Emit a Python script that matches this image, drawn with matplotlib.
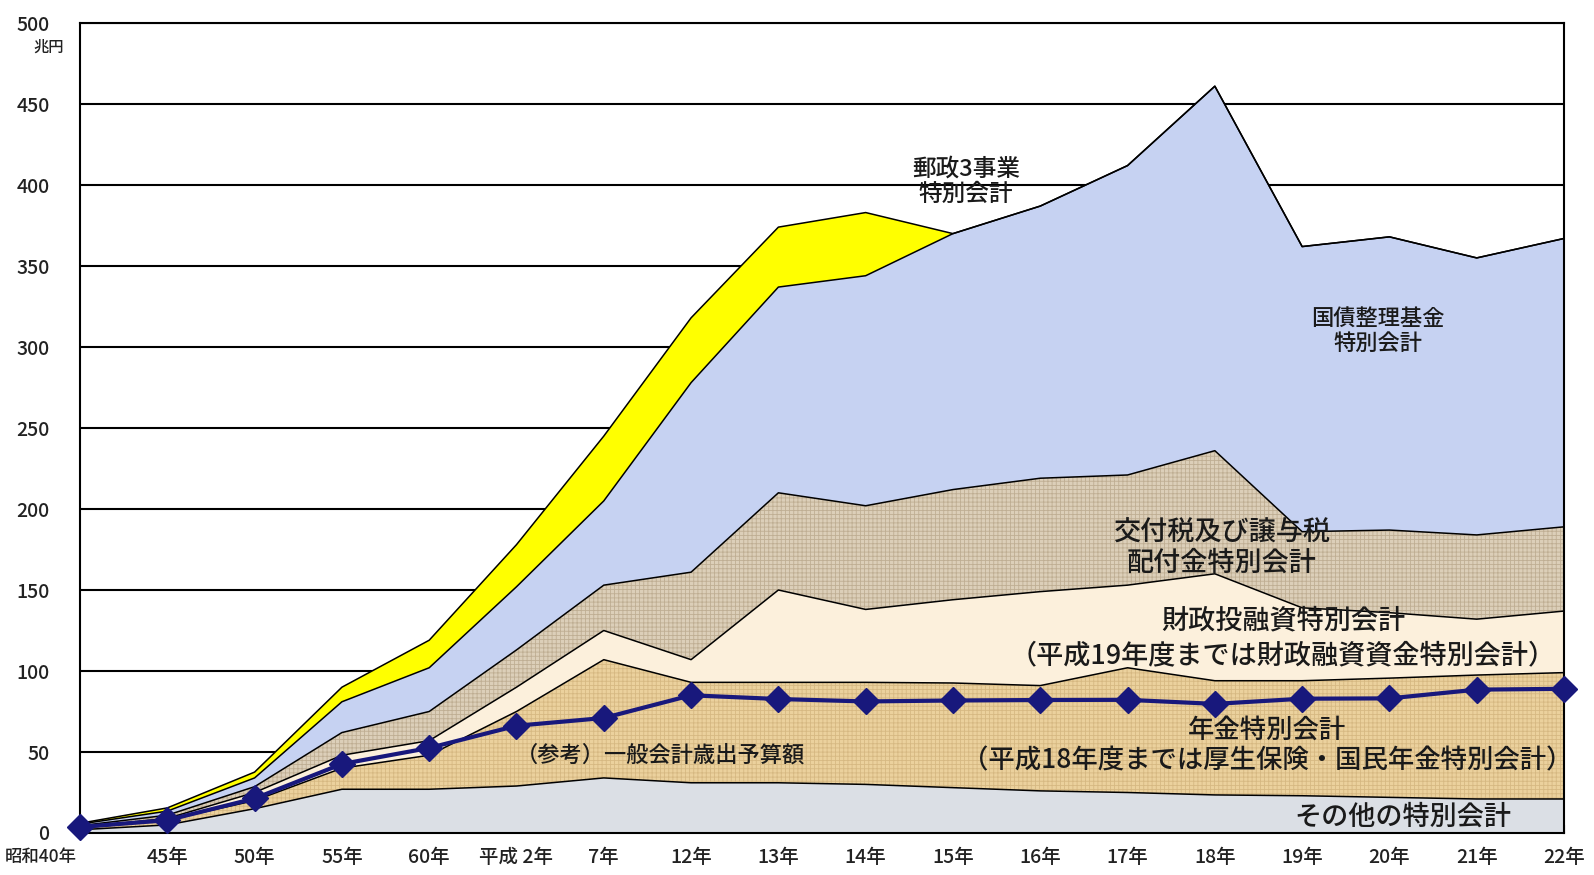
import numpy as np
import matplotlib.pyplot as plt
import matplotlib.transforms as mtransforms

plt.rcParams['font.family'] = ['Noto Sans CJK JP', 'DejaVu Sans']
plt.rcParams['hatch.linewidth'] = 0.6

# 年度 (category axis)
years = ['昭和40年', '45年', '50年', '55年', '60年', '平成 2年', '7年', '12年', '13年',
         '14年', '15年', '16年', '17年', '18年', '19年', '20年', '21年', '22年']

# 歳出額 (兆円), stacked from the bottom up
other_accounts = [2, 5, 15, 27, 27, 29, 34, 31, 31, 30, 28, 26, 25, 23.5, 23, 22, 21, 21]
pension = [1, 3, 5, 13, 21, 46, 73, 62, 62, 63, 64.6, 65, 77, 70.5, 71, 73.6, 76.5, 78]
filp = [0.5, 1, 5, 8, 9, 15, 18, 14, 57, 45, 51.4, 58, 51, 66, 45, 40.4, 34.5, 38]
local_alloc = [1, 2, 3.6, 14, 18, 23, 28, 54, 60, 64, 68, 70, 68, 76, 47, 51, 52, 52]
debt_fund = [1, 2.5, 5.4, 19, 27, 39, 52, 117, 127, 142, 158, 168, 191, 225, 176, 181, 171, 178]
postal = [0.5, 2, 3.6, 9, 17, 26, 40, 40, 37, 39, 0, 0, 0, 0, 0, 0, 0, 0]

# (参考) 一般会計歳出予算額
general_budget = [3.7, 7.9, 21.3, 42.6, 52.5, 66.2, 71.0, 85.0, 82.7, 81.2, 81.8, 82.1,
                  82.2, 79.7, 82.9, 83.1, 88.5, 89.0]

x = np.arange(len(years))
layers = np.array([other_accounts, pension, filp, local_alloc, debt_fund, postal])
tops = np.cumsum(layers, axis=0)
bottoms = tops - layers

face_colors = ['#dbdfe5', '#ebd19d', '#fcf0dc', '#dccfb9', '#c6d2f2', '#ffff00']
hatch_styles = [None, '++++', None, '++++', None, None]
hatch_colors = [None, '#d6b882', None, '#bfae93', None, None]

fig = plt.figure(figsize=(15.94, 8.75), dpi=100)
ax = fig.add_axes([0.0502, 0.048, 0.9310, 0.9257])

for bot, top, fc, hs, hc in zip(bottoms, tops, face_colors, hatch_styles, hatch_colors):
    ax.fill_between(x, bot, top, facecolor=fc, edgecolor='none', lw=0, zorder=2)
    if hs:
        ax.fill_between(x, bot, top, facecolor='none', edgecolor=hc, hatch=hs, lw=0, zorder=2.1)
    ax.plot(x, top, color='black', lw=1.1, zorder=3)

ax.plot(x, general_budget, color='#18187c', lw=3, marker='D', ms=13,
        zorder=5, clip_on=False)

ax.set_xlim(0, len(years) - 1)
ax.set_ylim(0, 500)
ax.set_yticks(np.arange(0, 501, 50))
ax.yaxis.grid(True, color='black', lw=1.5)
ax.set_axisbelow(True)
for s in ax.spines.values():
    s.set_linewidth(1.5)
    s.set_color('black')

ax.set_xticks(x)
ax.set_xticklabels(years)
ax.tick_params(axis='x', direction='in', length=6, width=1.5, pad=11, labelsize=14)
ax.tick_params(axis='y', length=0, pad=22, labelsize=14)
for lab in ax.get_xticklabels() + ax.get_yticklabels():
    lab.set_fontweight('medium')
    lab.set_color('#222222')

# first label starts at the left edge of the figure
first = ax.get_xticklabels()[0]
first.set_ha('left')
first.set_fontsize(12.5)
first.set_transform(first.get_transform() + mtransforms.ScaledTranslation(-75 / 100, 0, fig.dpi_scale_trans))

fig.text(49 / 1594, 1 - 47 / 875, '兆円', ha='center', va='center', fontsize=11,
         fontweight='medium', color='#222222')

label_kw = dict(ha='center', va='center', color='#1a1a1a', linespacing=1.15,
                fontweight='medium', zorder=6)
ax.text(10.15, 402, '郵政3事業\n特別会計', fontsize=17, **label_kw)
ax.text(14.87, 310, '国債整理基金\n特別会計', fontsize=16, **label_kw)
ax.text(13.08, 176, '交付税及び譲与税\n配付金特別会計', fontsize=19.5, **label_kw)
ax.text(13.78, 120, '財政投融資特別会計\n（平成19年度までは財政融資資金特別会計）', fontsize=19.5,
        **dict(label_kw, linespacing=1.35))
ax.text(13.6, 54, '年金特別会計\n（平成18年度までは厚生保険・国民年金特別会計）', fontsize=19, **label_kw)
ax.text(6.65, 48, '（参考）一般会計歳出予算額', fontsize=16, **label_kw)
ax.text(15.15, 9.5, 'その他の特別会計', fontsize=19.5, **label_kw)

fig.savefig('out.png', dpi=100)
